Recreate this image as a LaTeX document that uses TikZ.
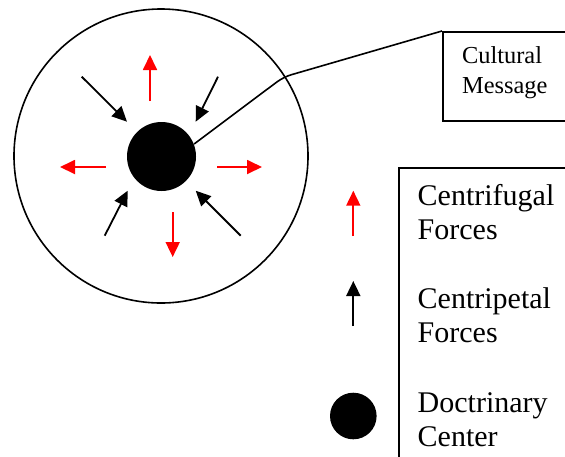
\documentclass[tikz,border=0pt]{standalone}
\usepackage{fontspec}
\setmainfont{Liberation Serif}
\usetikzlibrary{arrows.meta}
\newcommand\ForceTip{Triangle[length=7.5pt,width=7pt]}

\begin{document}
\begin{tikzpicture}[x=0.5pt,y=-0.5pt,
  outward/.style={red,line width=0.9pt,-{\ForceTip}},
  inward/.style={black,line width=0.9pt,-{\ForceTip}},
  keytext/.style={font=\fontsize{15}{17}\selectfont,align=left,inner sep=0pt,anchor=base west},
  msgtext/.style={font=\fontsize{12.2}{15}\selectfont,align=left,inner sep=0pt,anchor=base west},
  box/.style={draw,line width=0.75pt,anchor=north west,inner sep=0pt}]
\useasboundingbox (0,0) rectangle (565,456);
\clip (0,0) rectangle (565,456);
% the field and its center
\node[circle,draw,line width=0.8pt,minimum size=147pt,inner sep=0pt] (field) at (161,156) {};
\node[circle,fill=black,minimum size=34.5pt,inner sep=0pt] (core) at (161.5,156.5) {};
% centrifugal forces
\foreach \name/\from/\to in {up/{150,101}/{150,55},left/{106,167}/{60,167},
  right/{217,167}/{262,167},down/{172.7,212}/{172.7,257}}{
  \coordinate (out\name a) at (\from);
  \coordinate (out\name b) at (\to);
  \draw[outward] (out\name a) -- (out\name b);
}
% centripetal forces
\foreach \name/\from/\to in {nw/{81.7,76.7}/{127,121.7},ne/{218,76.7}/{195.7,121.7},
  sw/{104.7,235.7}/{127.7,190.7},se/{240.7,235.7}/{195.7,190.7}}{
  \coordinate (in\name a) at (\from);
  \coordinate (in\name b) at (\to);
  \draw[inward] (in\name a) -- (in\name b);
}
% cultural message
\node[box,minimum width=80pt,minimum height=44.5pt] (msgbox) at (442,31) {};
\node[msgtext] (msg) at (461.7,93) {Cultural\\Message};
\coordinate (bend) at (283.5,77);
\draw[line width=0.8pt,rounded corners=4pt] (core.21) -- (bend) -- (msgbox.north west);
% key
\node[box,minimum width=100pt,minimum height=160pt] (key) at (398,167) {};
\coordinate (keyouta) at (353.3,236);
\coordinate (keyoutb) at (353.3,190.7);
\draw[outward] (keyouta) -- (keyoutb);
\coordinate (keyina) at (353.3,326);
\coordinate (keyinb) at (353.3,281);
\draw[inward] (keyina) -- (keyinb);
\node[circle,fill=black,minimum size=23.3pt,inner sep=0pt] (keycore) at (353.3,416) {};
\node[keytext] (keyout) at (417.3,239) {Centrifugal\\Forces};
\node[keytext] (keyin) at (417.3,342.3) {Centripetal\\Forces};
\node[keytext] (keydoc) at (417.3,446.7) {Doctrinary\\Center};
\end{tikzpicture}
\end{document}
